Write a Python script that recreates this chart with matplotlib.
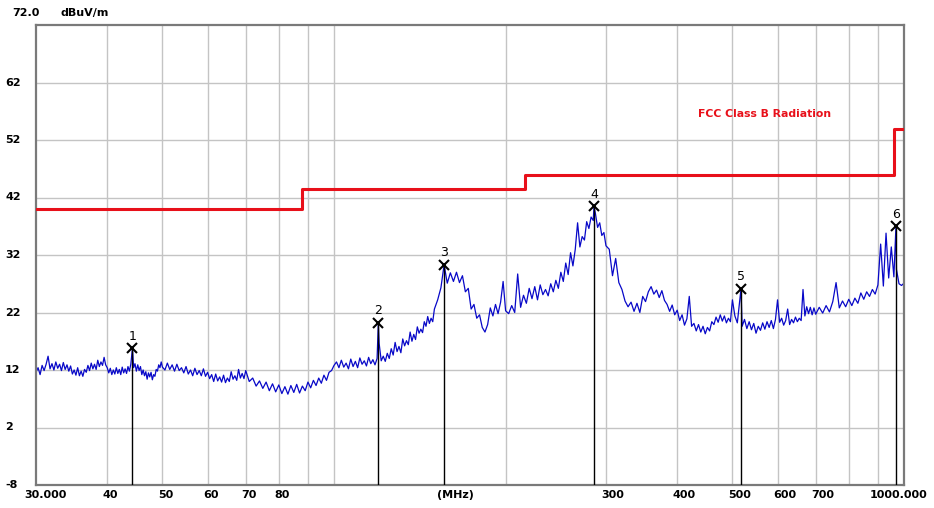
import matplotlib
matplotlib.use("Agg")
import matplotlib.pyplot as plt
import matplotlib.transforms as mtransforms

seg_a_freq = [
    30.0, 30.25, 30.5, 30.75, 31.0, 31.25, 31.5, 31.75,
    32.0, 32.25, 32.5, 32.75, 33.0, 33.25, 33.5, 33.75,
    34.0, 34.25, 34.5, 34.75, 35.0, 35.25, 35.5, 35.75,
    36.0, 36.25, 36.5, 36.75, 37.0, 37.25, 37.5, 37.75,
    38.0, 38.25, 38.5, 38.75, 39.0, 39.25, 39.5, 39.75,
    40.0, 40.25, 40.5, 40.75, 41.0, 41.25, 41.5, 41.75,
    42.0, 42.25, 42.5, 42.75, 43.0, 43.25, 43.5, 43.75,
    44.0, 44.3, 44.5, 44.75, 45.0, 45.25, 45.5, 45.75,
    46.0, 46.25, 46.5, 46.75, 47.0, 47.25, 47.5, 47.75,
    48.0, 48.25, 48.5, 48.75, 49.0, 49.25, 49.5, 49.75,
    50.0,
]
seg_a_level = [
    11.6, 12.4, 11.2, 12.8, 11.9, 13.0, 14.4, 12.2,
    13.1, 12.0, 13.4, 12.3, 13.0, 11.9, 13.3, 12.1,
    12.9, 11.8, 12.7, 11.3, 12.0, 11.1, 12.4, 11.0,
    11.8, 10.9, 12.1, 11.6, 12.8, 11.9, 13.2, 12.2,
    13.0, 12.1, 13.7, 12.6, 13.4, 12.8, 14.2, 12.9,
    12.4, 11.5, 12.3, 11.2, 12.0, 11.3, 12.4, 11.4,
    12.1, 11.2, 12.5, 11.5, 12.2, 11.4, 12.6, 11.8,
    13.0, 15.8, 12.4, 13.1, 11.8, 12.9, 11.9, 12.6,
    11.2, 12.0, 11.0, 11.7, 10.4, 11.5, 10.8, 11.6,
    10.3, 11.2, 10.9, 12.1, 11.8, 12.9, 12.4, 13.4,
    12.5,
]

seg_b_freq = [
    50.5, 51.0, 51.5, 52.0, 52.5, 53.0, 53.5, 54.0,
    54.5, 55.0, 55.5, 56.0, 56.5, 57.0, 57.5, 58.0,
    58.5, 59.0, 59.5, 60.0, 60.5, 61.0, 61.5, 62.0,
    62.5, 63.0, 63.5, 64.0, 64.5, 65.0, 65.5, 66.0,
    66.5, 67.0, 67.5, 68.0, 68.5, 69.0, 69.5, 70.0,
    71, 72, 73, 74, 75, 76, 77, 78, 79, 80,
    81, 82, 83, 84, 85, 86, 87, 88, 89, 90,
    91, 92, 93, 94, 95, 96, 97, 98, 99, 100,
]
seg_b_level = [
    12.0, 13.2, 12.1, 12.9, 11.8, 13.0, 11.9, 12.4,
    11.5, 12.6, 11.3, 12.0, 11.0, 12.3, 11.2, 11.9,
    11.0, 12.2, 10.9, 11.6, 10.5, 11.2, 10.0, 11.3,
    10.1, 10.8, 9.9, 11.1, 9.8, 10.6, 10.0, 11.7,
    10.4, 11.0, 10.2, 12.1, 10.6, 11.4, 10.5, 11.9,
    10.0, 10.6, 9.2, 10.1, 8.8, 9.9, 8.4, 9.6, 8.2, 9.4,
    7.9, 9.1, 7.8, 9.3, 8.1, 9.5, 8.0, 9.2, 8.4, 9.9,
    8.9, 10.2, 9.3, 10.6, 9.7, 11.1, 10.2, 11.6, 11.9, 12.8,
]

seg_c_freq = [
    101, 102, 103, 104, 105, 106, 107, 108,
    109, 110, 111, 112, 113, 114, 115, 116,
    117, 118, 119, 119.6, 120, 121, 122, 123,
    124, 125, 126, 127, 128, 129, 130, 131,
    132, 133, 134, 135, 136, 137, 138, 139,
    140, 141, 142, 143, 144, 145, 146, 147,
    148, 149, 150,
    152, 154, 156, 158, 160, 162, 164, 166,
    168, 170, 172, 174, 176, 178, 180, 182,
    184, 186, 188, 190, 192, 194, 196, 198,
    200,
]
seg_c_level = [
    13.4, 12.4, 13.7, 12.5, 13.2, 12.2, 13.9, 12.6,
    13.5, 12.4, 14.1, 13.0, 13.6, 12.7, 14.2, 13.1,
    13.8, 12.9, 14.0, 20.2, 16.6, 13.6, 14.4, 13.5,
    14.9, 14.0, 15.7, 14.6, 16.8, 15.2, 16.1, 15.0,
    17.4, 16.2, 17.1, 16.4, 18.6, 17.0, 18.2, 17.3,
    19.5, 18.4, 19.1, 18.5, 20.4, 19.6, 21.3, 20.1,
    21.0, 20.4, 22.6,
    24.2, 26.3, 30.3, 27.1, 28.9, 27.4, 29.0, 27.2,
    28.4, 25.6, 26.2, 22.6, 23.4, 21.0, 21.6, 19.4,
    18.6, 19.9, 22.8, 21.4, 23.4, 21.8, 23.8, 27.4,
    22.3,
]

seg_d_freq = [
    202.5, 205.0, 207.5, 210.0, 212.5, 215.0, 217.5, 220.0,
    222.5, 225.0, 227.5, 230.0, 232.5, 235.0, 237.5, 240.0,
    242.5, 245.0, 247.5, 250.0, 252.5, 255.0, 257.5, 260.0,
    262.5, 265.0, 267.5, 270.0, 272.5, 275.0, 277.5, 280.0,
    282.5, 285.0, 285.8, 287.5, 290.0, 292.5, 295.0, 297.5,
    300.0,
    304, 308, 312, 316, 320, 324, 328, 332,
    336, 340, 344, 348, 352, 356, 360, 364,
    368, 372, 376, 380, 384, 388, 392, 396,
    400, 404, 408, 412, 416, 420, 424, 428,
    432, 436, 440, 444, 448, 452, 456, 460,
    464, 468, 472, 476, 480, 484, 488, 492,
    496, 500,
]
seg_d_level = [
    21.8, 23.2, 22.0, 28.7, 22.9, 25.0, 23.6, 26.2,
    24.4, 26.5, 24.2, 26.8, 25.1, 26.0, 24.9, 27.0,
    25.6, 27.6, 26.2, 29.0, 27.4, 30.6, 28.6, 32.4,
    30.1, 33.0, 37.6, 33.4, 35.2, 34.6, 37.8, 36.6,
    38.6, 38.0, 40.5, 39.2, 36.8, 37.6, 35.4, 35.9,
    33.6,
    33.0, 28.4, 31.4, 27.2, 26.0, 24.0, 23.0, 23.8,
    22.2, 23.6, 22.0, 24.8, 23.9, 25.6, 26.5, 25.2,
    25.9, 24.6, 25.8, 24.1, 23.4, 22.2, 23.3, 21.6,
    22.4, 20.6, 21.6, 19.8, 20.9, 24.8, 19.6, 20.1,
    18.8, 19.9, 18.6, 19.6, 18.3, 19.4, 18.8, 20.4,
    19.9, 21.2, 20.3, 21.6, 20.5, 21.4, 20.2, 21.0,
    20.4, 24.2,
]

seg_e_freq = [
    505, 510, 515, 517.6, 520, 525, 530, 535,
    540, 545, 550, 555, 560, 565, 570, 575,
    580, 585, 590, 595, 600, 605, 610, 615,
    620, 625, 630, 635, 640, 645, 650, 655,
    660, 665, 670, 675, 680, 685, 690, 695,
    700,
    710, 720, 730, 740, 750, 760, 770, 780,
    790, 800, 810, 820, 830, 840, 850, 860,
    870, 880, 890, 900, 910, 920, 930, 940,
    950, 960, 968, 970, 980, 990, 1000,
]
seg_e_level = [
    21.4, 20.2, 24.0, 26.1, 19.6, 20.8, 19.2, 20.4,
    19.0, 20.1, 18.4, 19.6, 18.9, 20.2, 19.1, 20.4,
    19.4, 20.6, 19.2, 20.8, 24.2, 20.3, 21.0, 19.8,
    20.6, 22.6, 19.9, 20.8, 20.2, 21.2, 20.4, 21.0,
    20.6, 26.0, 21.4, 23.0, 21.8, 22.9, 21.6, 22.8,
    21.7,
    22.9, 21.9, 23.2, 22.1, 23.9, 27.2, 22.8, 24.0,
    23.0, 24.3, 23.2, 24.5, 23.6, 25.4, 24.3, 25.6,
    24.8, 26.0, 25.2, 26.8, 33.9, 26.6, 35.8, 28.0,
    33.4, 28.2, 37.0, 29.5, 27.0, 26.7, 27.1,
]

freq_mhz = seg_a_freq + seg_b_freq + seg_c_freq + seg_d_freq + seg_e_freq
level_dbuv = seg_a_level + seg_b_level + seg_c_level + seg_d_level + seg_e_level

# FCC Class B limit (step after each frequency)
limit_freq = [30, 88, 216, 960, 1000]
limit_level = [40, 43.5, 46, 54, 54]

# Peak markers
marker_freq = [44.3, 119.6, 156, 285.8, 517.6, 968]
marker_level = [15.8, 20.2, 30.3, 40.5, 26.1, 37.0]
marker_names = ["1", "2", "3", "4", "5", "6"]

grid_freqs = [40, 50, 60, 70, 80, 90, 100, 200, 300, 400, 500, 600, 700, 800, 900]
xtick_vals = [30, 40, 50, 60, 70, 80, 300, 400, 500, 600, 700, 1000]
xtick_text = ["30.000", "40", "50", "60", "70", "80", "300", "400", "500", "600", "700", "1000.000"]
ytick_vals = [62, 52, 42, 32, 22, 12, 2, -8]

W, H = 934, 508
fig = plt.figure(figsize=(W / 100, H / 100), dpi=100)
ax = fig.add_axes([36 / W, 23 / H, 868 / W, 460 / H])

ax.set_xscale("log")
ax.set_xlim(30, 1000)
ax.set_ylim(-8, 72)

for f in grid_freqs:
    ax.axvline(f, color="#c4c4c4", lw=1.0, zorder=0)
for v in ytick_vals[:-1]:
    ax.axhline(v, color="#c4c4c4", lw=1.0, zorder=0)

ax.set_xticks([])
ax.set_yticks([])
ax.minorticks_off()
for s in ax.spines.values():
    s.set_color("#7a7a7a")
    s.set_linewidth(1.6)

ax.plot(freq_mhz, level_dbuv, color="#0808c8", lw=0.9, zorder=2)
ax.plot(limit_freq, limit_level, color="#e8101a", lw=2.2, drawstyle="steps-post", zorder=3)

for f, v, n in zip(marker_freq, marker_level, marker_names):
    ax.plot([f, f], [-8, v], color="black", lw=1.0, zorder=4)
    ax.plot(f, v, marker="x", color="black", ms=7, mew=1.5, zorder=5)
    ax.annotate(n, (f, v), xytext=(0, 4), textcoords="offset points",
                ha="center", va="bottom", fontsize=9, zorder=5)

ax.text(435, 56.6, "FCC Class B Radiation", color="#e8101a", fontsize=7.8,
        fontweight="bold", va="center", ha="left")

lab = dict(fontsize=8, fontweight="bold", color="black")
xt = mtransforms.blended_transform_factory(ax.transData, fig.transFigure)
for f, t in zip(xtick_vals, xtick_text):
    if t == "30.000":
        tr, ha = mtransforms.offset_copy(xt, fig, x=-12, y=0, units="dots"), "left"
    elif t == "1000.000":
        tr, ha = mtransforms.offset_copy(xt, fig, x=23, y=0, units="dots"), "right"
    else:
        tr, ha = mtransforms.offset_copy(xt, fig, x=-4.5, y=0, units="dots"), "left"
    ax.text(f, 13 / H, t, transform=tr, ha=ha, va="center", **lab)
fig.text(455 / W, 13 / H, "(MHz)", ha="center", va="center", **lab)

yt = mtransforms.blended_transform_factory(fig.transFigure, ax.transData)
for v in ytick_vals:
    ax.text(5 / W, v, str(v), transform=yt, ha="left", va="center", **lab)
fig.text(12 / W, 1 - 13 / H, "72.0", ha="left", va="center", **lab)
fig.text(61 / W, 1 - 13 / H, "dBuV/m", ha="left", va="center", **lab)

fig.savefig("out.png", dpi=100)
